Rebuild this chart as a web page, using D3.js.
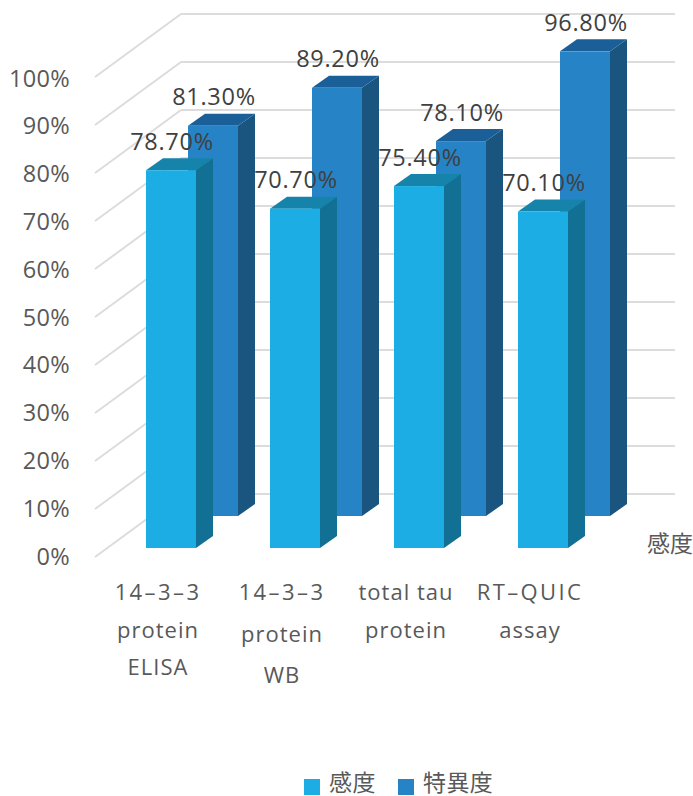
<!DOCTYPE html>
<html lang="ja">
<head>
<meta charset="utf-8">
<title>感度と特異度</title>
<script src="https://cdn.jsdelivr.net/npm/d3@7/dist/d3.min.js"></script>
<style>
  html, body { margin: 0; padding: 0; background: #fff; overflow: hidden; }
  svg { display: block; }
  text { font-family: "Open Sans", "Noto Sans CJK JP", sans-serif; }
</style>
</head>
<body>
<div id="chart"></div>
<script>
// Chart values
const categories = ["14-3-3 protein ELISA", "14-3-3 protein WB", "total tau protein", "RT-QUIC assay"];
const categoryLines = [["14-3-3", "protein", "ELISA"], ["14-3-3", "protein", "WB"], ["total tau", "protein"], ["RT-QUIC", "assay"]];
const sensitivity = [78.7, 70.7, 75.4, 70.1];
const specificity = [81.3, 89.2, 78.1, 96.8];
const yTicks = [0, 10, 20, 30, 40, 50, 60, 70, 80, 90, 100];
const seriesNames = ["感度", "特異度"];

const width = 693, height = 796;
const svg = d3.select("#chart").append("svg").attr("width", width).attr("height", height);

// The same value axis sits on three depth planes of the pseudo-3D box
const yFront = d3.scaleLinear().domain([0, 100]).range([548, 68]);
const yBack = d3.scaleLinear().domain([0, 100]).range([516, 36]);
const yWall = d3.scaleLinear().domain([0, 100]).range([494, 14]);
const yFloorEdge = d3.scaleLinear().domain([0, 100]).range([557, 77]);
const yTickText = d3.scaleLinear().domain([0, 100]).range([564.5, 86.5]);

// Band scale places each category column; series offsets shift within it
const x = d3.scaleBand().domain(categories).range([146, 642]).paddingInner(0).paddingOuter(0).align(0);
const barWidth = 50, depthX = 17, depthY = 12;
const series = [
  { name: seriesNames[0], values: sensitivity, y: yFront, dx: 0, face: "#1cade4", side: "#137095", top: "#1583aa", labelDx: 26, legendX: 304, textX: 329 },
  { name: seriesNames[1], values: specificity, y: yBack, dx: 42, face: "#2683c6", side: "#1a5580", top: "#1b5f98", labelDx: 26, legendX: 398, textX: 423 }
];

// Back wall and left wall gridlines
const gridColor = "#dcdcdc";
const grid = svg.append("g").attr("fill", "none").attr("stroke", gridColor).attr("stroke-width", 2);
grid.selectAll("line.wall").data(yTicks).join("line").attr("class", "wall")
  .attr("x1", 181).attr("x2", 675).attr("y1", d => yWall(d)).attr("y2", d => yWall(d));
grid.selectAll("line.side").data(yTicks).join("line").attr("class", "side")
  .attr("x1", 95).attr("x2", 181).attr("y1", d => yFloorEdge(d)).attr("y2", d => yWall(d));

// Value axis labels
svg.append("g").selectAll("text").data(yTicks).join("text")
  .attr("x", 70).attr("y", d => yTickText(d)).attr("text-anchor", "end")
  .attr("font-size", 23.5).attr("letter-spacing", 0.3).attr("fill", "#595959").text(d => d + "%");

// Bars: rear series first so the front series overlaps it
const path = d3.path;
series.slice().reverse().forEach(s => {
  const g = svg.append("g");
  categories.forEach((c, i) => {
    const x0 = x(c) + s.dx, x1 = x0 + barWidth;
    const top = s.y(s.values[i]), bottom = s.y(0);
    const side = path();
    side.moveTo(x1, top); side.lineTo(x1 + depthX, top - depthY);
    side.lineTo(x1 + depthX, bottom - depthY); side.lineTo(x1, bottom); side.closePath();
    g.append("path").attr("d", side.toString()).attr("fill", s.side);
    const cap = path();
    cap.moveTo(x0, top); cap.lineTo(x0 + depthX, top - depthY);
    cap.lineTo(x1 + depthX, top - depthY); cap.lineTo(x1, top); cap.closePath();
    g.append("path").attr("d", cap.toString()).attr("fill", s.top);
    g.append("rect").attr("x", x0).attr("y", top).attr("width", barWidth).attr("height", bottom - top).attr("fill", s.face);
  });
});

// Value labels above each bar
series.forEach(s => {
  svg.append("g").selectAll("text").data(s.values).join("text")
    .attr("x", (d, i) => x(categories[i]) + s.dx + s.labelDx)
    .attr("y", d => s.y(d) - 20.5)
    .attr("text-anchor", "middle").attr("font-size", 23.5).attr("letter-spacing", 0.7)
    .attr("fill", "#404040").text(d => d.toFixed(2) + "%");
});

// Category labels, wrapped; the WB column has wider line spacing
const lineStep = [37.5, 41.5, 37.5, 37.5];
categories.forEach((c, i) => {
  svg.append("text").attr("text-anchor", "middle").attr("font-size", 22).attr("fill", "#595959")
    .selectAll("tspan").data(categoryLines[i]).join("tspan")
    .attr("x", x(c) + 12)
    .attr("y", (d, k) => 600 + k * lineStep[i])
    .attr("letter-spacing", d => d.includes("-") ? 2.4 : 1)
    .text(d => d.replaceAll("-", "\u2013"));
});

// Depth axis label at the right edge, carrying the first series name
svg.append("text").attr("x", 647).attr("y", 552).attr("font-size", 23).attr("fill", "#595959").text(seriesNames[0]);

// Legend
const legend = svg.append("g");
series.forEach(s => {
  legend.append("rect").attr("x", s.legendX).attr("y", 779).attr("width", 16).attr("height", 16).attr("fill", s.face);
  legend.append("text").attr("x", s.textX).attr("y", 791).attr("font-size", 23).attr("letter-spacing", 0.4).attr("fill", "#595959").text(s.name);
});
</script>
</body>
</html>
